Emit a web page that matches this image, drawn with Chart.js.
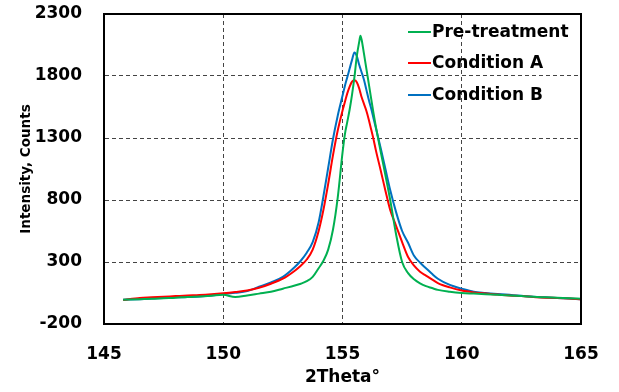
<!DOCTYPE html>
<html>
<head>
<meta charset="utf-8">
<script src="https://cdn.jsdelivr.net/npm/chart.js@4.4.1/dist/chart.umd.min.js"></script>
<style>
html,body{margin:0;padding:0;background:#fff;}
#wrap{width:619px;height:392px;}
</style>
</head>
<body>
<div id="wrap"><canvas id="c" width="619" height="392"></canvas></div>
<script>
// ---- data ----
const twoTheta = [145.8,146.5,147,147.5,148,148.5,149,149.5,150,150.5,151,151.5,152,152.5,153,153.25,153.5,153.75,154,154.2,154.4,154.6,154.8,155,155.1,155.2,155.3,155.4,155.5,155.6,155.7,155.75,155.8,155.9,156,156.1,156.2,156.3,156.4,156.6,156.8,157,157.25,157.5,157.75,158,158.25,158.5,158.75,159,159.5,160,160.5,161,161.5,162,162.5,163,163.5,164,164.5,165];
const preTreatment = [-5,0,3,8,12,18,22,28,35,18,30,45,60,85,110,125,145,180,250,310,400,560,820,1180,1330,1430,1530,1650,1790,1960,2075,2125,2095,1980,1860,1740,1620,1500,1390,1190,1000,800,520,300,210,160,128,105,90,75,60,50,45,40,35,30,25,20,15,12,8,3];
const conditionA = [-6,10,15,20,25,30,34,40,48,58,70,92,125,165,230,270,320,400,550,720,930,1160,1360,1520,1590,1660,1715,1755,1765,1750,1700,1665,1630,1575,1520,1450,1370,1290,1200,1040,875,720,590,460,340,270,222,190,160,130,95,70,55,45,38,30,25,18,12,10,6,0];
const conditionB = [-5,0,5,10,15,18,22,30,42,52,65,100,135,180,260,310,375,460,620,830,1060,1290,1480,1640,1720,1790,1860,1930,1990,1960,1890,1860,1830,1770,1690,1610,1540,1460,1380,1220,1050,880,700,550,455,350,295,250,205,165,115,85,60,50,42,35,28,20,15,10,5,0];
const seriesNames = ['Pre-treatment','Condition A','Condition B'];
const xTicks = [145,150,155,160,165];
const yTicks = [-200,300,800,1300,1800,2300];
const xTitle = '2Theta°';
const yTitle = 'Intensity, Counts';

const colors = ['#00b050','#ff0000','#0070c0'];
const FONT = "'DejaVu Sans'";
const toPts = arr => arr.map((v,i)=>({x:twoTheta[i], y:v}));

const frameAndLegend = {
  id:'frameAndLegend',
  afterDatasetsDraw(chart){
    const {ctx, chartArea:a} = chart;
    ctx.save();
    ctx.strokeStyle = '#000';
    ctx.lineWidth = 2;
    ctx.strokeRect(a.left, a.top, a.right-a.left, a.bottom-a.top);
    const ys = [32,63,95];
    ctx.font = "bold 17px 'DejaVu Sans'";
    ctx.textBaseline = 'middle';
    ctx.textAlign = 'left';
    chart.data.datasets.forEach((ds,i)=>{
      ctx.strokeStyle = ds.borderColor;
      ctx.lineWidth = 2;
      ctx.beginPath();
      ctx.moveTo(408, ys[i]); ctx.lineTo(431, ys[i]);
      ctx.stroke();
      ctx.fillStyle = '#000';
      ctx.fillText(ds.label, 432, ys[i]+1);
    });
    ctx.restore();
  }
};

const gridColor = (ctx) => {
  const v = ctx.tick && ctx.tick.value;
  if (v === undefined) return 'rgba(0,0,0,0)';
  return (v === -200 || v === 2300 || v === 145 || v === 165) ? 'rgba(0,0,0,0)' : '#444';
};

new Chart(document.getElementById('c'), {
  type:'line',
  data:{
    datasets:[
      {label:seriesNames[0], data:toPts(preTreatment), borderColor:colors[0]},
      {label:seriesNames[1], data:toPts(conditionA), borderColor:colors[1]},
      {label:seriesNames[2], data:toPts(conditionB), borderColor:colors[2]}
    ].map(d=>Object.assign(d,{borderWidth:2, pointRadius:0, fill:false, cubicInterpolationMode:'monotone'}))
  },
  options:{
    responsive:false,
    animation:false,
    layout:{padding:{left:0,right:38,top:14,bottom:0}},
    plugins:{legend:{display:false}, tooltip:{enabled:false}},
    scales:{
      x:{
        type:'linear', min:145, max:165,
        afterBuildTicks: s => { s.ticks = xTicks.map(v=>({value:v})); },
        afterFit: s => { s.height = 68; s.paddingLeft = 0; s.paddingRight = 0; },
        ticks:{padding:20, font:{family:FONT, size:17, weight:'bold'}, color:'#000', callback: v => String(v)},
        grid:{drawTicks:false, color:gridColor, lineWidth:1},
        border:{display:true, color:'#000', width:2, dash:[4,3]},
        title:{display:true, text:xTitle, font:{family:FONT, size:17, weight:'bold'}, color:'#000', padding:{top:0,bottom:4}}
      },
      y:{
        type:'linear', min:-200, max:2300,
        afterBuildTicks: s => { s.ticks = yTicks.map(v=>({value:v})); },
        afterFit: s => { s.width = 104; s.paddingTop = 0; s.paddingBottom = 0; },
        ticks:{padding:22, font:{family:FONT, size:17, weight:'bold'}, color:'#000', callback: v => String(v)},
        grid:{drawTicks:false, color:gridColor, lineWidth:1},
        border:{display:true, color:'#000', width:2, dash:[4,3]},
        title:{display:true, text:yTitle, font:{family:FONT, size:13.5, weight:'bold'}, color:'#000', padding:{top:18,bottom:0}}
      }
    }
  },
  plugins:[frameAndLegend]
});
</script>
</body>
</html>
